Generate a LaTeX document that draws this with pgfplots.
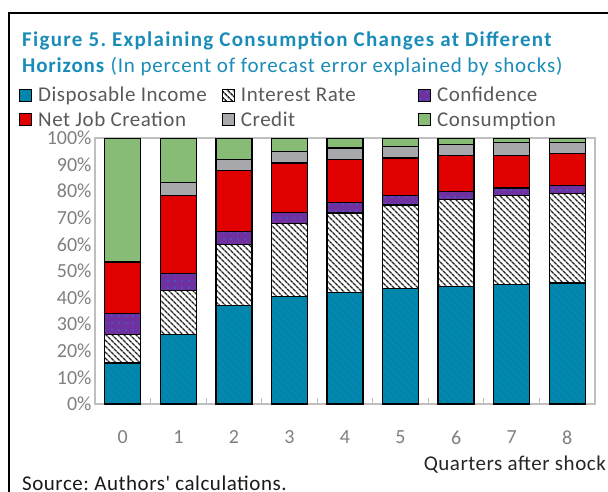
\documentclass[border=0pt]{standalone}
\usepackage{fontspec}
\setmainfont{Carlito}
\newfontfamily\legfont[LetterSpace=2.5]{Carlito}
\newfontfamily\titfont[LetterSpace=6.2]{Carlito}
\newfontfamily\subfont[LetterSpace=4]{Carlito}
\usepackage{pgfplots}
\usepackage{pgfplotstable}
\pgfplotsset{compat=1.18}
\usetikzlibrary{patterns,patterns.meta}
\frenchspacing

\definecolor{cDisp}{HTML}{0088AE}
\definecolor{cDispD}{HTML}{0A7DA2}
\definecolor{cConf}{HTML}{7030A0}
\definecolor{cDots}{HTML}{3A5FD0}
\definecolor{cNet}{HTML}{E00000}
\definecolor{cCred}{HTML}{A6A8AB}
\definecolor{cCons}{HTML}{88BC76}
\definecolor{cTitle}{HTML}{1A8CB8}
\definecolor{cTick}{HTML}{7F7F7F}
\definecolor{cLeg}{HTML}{595959}
\definecolor{cAxis}{HTML}{BFBFBF}

\pgfplotstableread{
x D I C N Cr Co
0 15.4 10.6 8.0 19.4 0.0 46.6
1 26.0 16.6 6.4 29.4 5.0 16.6
2 37.0 22.9 4.9 22.9 4.3 8.0
3 40.3 27.5 4.1 18.7 4.4 5.0
4 41.8 30.0 3.9 16.3 4.2 3.8
5 43.3 31.5 3.5 14.2 4.3 3.2
6 44.1 32.7 3.0 13.5 4.2 2.5
7 44.8 33.6 2.8 12.1 5.1 1.6
8 45.5 33.6 3.0 12.0 4.3 1.6
}\datatable

\begin{document}
\begin{tikzpicture}
\useasboundingbox (0pt,0pt) rectangle (608pt,491pt);
\begin{axis}[
  at={(95pt,87pt)}, anchor=south west,
  scale only axis, width=500pt, height=266pt,
  ybar stacked, bar width=36pt,
  xmin=-0.5, xmax=8.5, ymin=0, ymax=100,
  xtick={0,...,8},
  minor xtick={0.5,1.5,...,7.5},
  ytick={0,10,...,100},
  yticklabel={\pgfmathprintnumber{\tick}\%},
  /pgf/number format/assume math mode=true,
  axis line style={draw=cAxis, line width=1.3pt},
  major tick length=0pt, minor tick length=6pt,
  tick align=inside, xtick pos=left, ytick pos=left,
  minor tick style={draw=cAxis, line width=1.2pt},
  ticklabel style={font=\fontsize{20}{24}\selectfont, text=cTick},
  yticklabel style={inner ysep=0pt},
  xticklabel style={yshift=-23pt},
  every axis plot/.append style={draw=black, line width=1.3pt},
  legend columns=3,
  legend cell align=left,
  legend image code/.code={\draw[#1,draw=black,line width=1.2pt] (0pt,-6pt) rectangle (12pt,6pt);},
  legend style={at={(axis description cs:-0.152,1.195)}, anchor=north west,
    draw=none, fill=none, inner sep=0pt, outer sep=0pt,
    font=\legfont\fontsize{21}{25}\selectfont, text=cLeg,
    nodes={inner xsep=0pt, inner ysep=1pt},
    row sep=6.5pt,
    /tikz/column 1/.style={column sep=6pt},
    /tikz/column 2/.style={column sep=15pt},
    /tikz/column 3/.style={column sep=6pt},
    /tikz/column 4/.style={column sep=62pt},
    /tikz/column 5/.style={column sep=6pt}},
]
\addplot[fill=cDisp, postaction={pattern={Lines[angle=-45,distance=5pt,line width=0.7pt]}, pattern color=cDispD}] table[x=x,y=D]{\datatable};
\addlegendentry{Disposable Income}
\addplot[fill=white, postaction={pattern={Lines[angle=-45,distance=4pt,line width=1.5pt]}, pattern color=black!85}] table[x=x,y=I]{\datatable};
\addlegendentry{Interest Rate}
\addplot[fill=cConf, postaction={pattern={Dots[distance=7pt,radius=1.1pt]}, pattern color=cDots}] table[x=x,y=C]{\datatable};
\addlegendentry{Confidence}
\addplot[fill=cNet] table[x=x,y=N]{\datatable};
\addlegendentry{Net Job Creation}
\addplot[fill=cCred] table[x=x,y=Cr]{\datatable};
\addlegendentry{Credit}
\addplot[fill=cCons] table[x=x,y=Co]{\datatable};
\addlegendentry{Consumption}
\end{axis}
\draw[black, line width=2pt] (9pt,-5pt) -- (9pt,478pt) -- (620pt,478pt);
\node[anchor=base west, inner sep=0, text=cTitle, font=\titfont\fontsize{21}{24}\selectfont\bfseries] at (22pt,444.5pt) {Figure 5. Explaining Consumption Changes at Different};
\node[anchor=base west, inner sep=0, text=cTitle, font=\subfont\fontsize{21}{24}\selectfont] at (22pt,418pt) {\textbf{Horizons} (In percent of forecast error explained by shocks)};
\node[anchor=base east, inner sep=0, text=black!85, font=\legfont\fontsize{21}{24}\selectfont] at (606pt,21pt) {Quarters after shock};
\node[anchor=base west, inner sep=0, text=black!90, font=\legfont\fontsize{21}{24}\selectfont] at (22pt,0.5pt) {Source: Authors' calculations.};
\end{tikzpicture}
\end{document}
